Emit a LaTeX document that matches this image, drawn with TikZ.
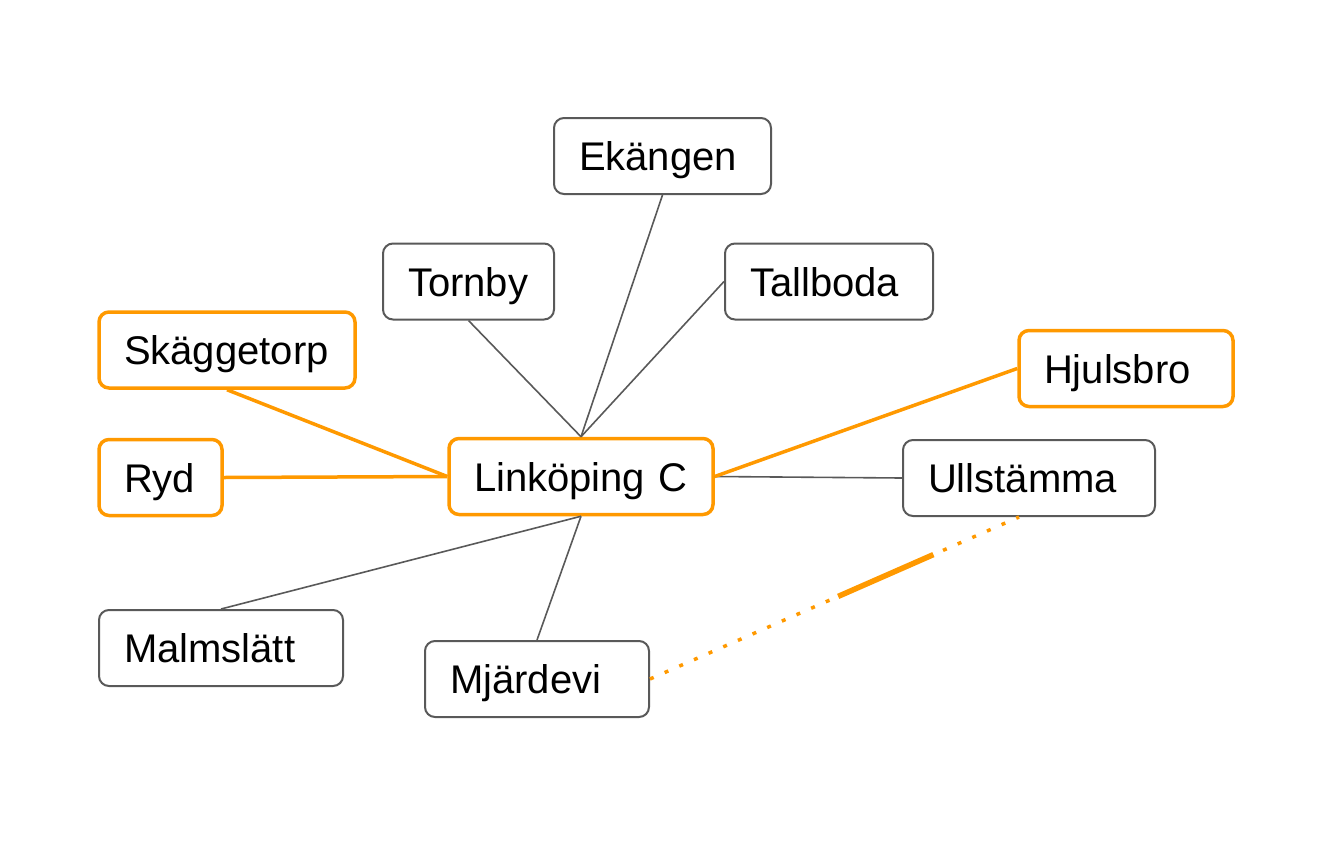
\documentclass[tikz,border=0pt]{standalone}
\usepackage{fontspec}
\setmainfont{Liberation Sans}
\definecolor{lkorange}{HTML}{FF9900}
\definecolor{lkgray}{HTML}{595959}
\begin{document}
\begin{tikzpicture}[x=1pt,y=-1pt,
  station/.style={draw=lkgray,line width=2pt,rounded corners=10pt,fill=white,
    minimum height=76pt,inner ysep=0pt,inner xsep=25pt,align=left,
    text height=29pt,text depth=0pt,font=\fontsize{40}{48}\selectfont},
  hub/.style={station,draw=lkorange,line width=3.5pt},
  w/.style={minimum width=#1pt,text width=#1pt-50pt},
  link/.style={draw=lkgray,line width=1.6pt},
  olink/.style={draw=lkorange,line width=3.5pt}]
\useasboundingbox (0,0) rectangle (1322,849);
\node[station,w=217] (ek) at (662.5,156) {Ekängen};
\node[station,w=171] (to) at (468.5,281.5) {Tornby};
\node[station,w=208] (ta) at (829,281.5) {Tallboda};
\node[hub,w=256] (sk) at (227,350) {Skäggetorp};
\node[hub,w=214] (hj) at (1126,368.5) {Hjulsbro};
\node[hub,w=123] (ry) at (160.5,477.5) {Ryd};
\node[hub,w=264] (lk) at (581,476.5) {Linköping C};
\node[station,w=252] (ul) at (1029,478) {Ullstämma};
\node[station,w=244] (ma) at (221,648) {Malmslätt};
\node[station,w=224] (mj) at (537,679) {Mjärdevi};
\coordinate (ulb) at ([xshift=-10pt]ul.south);
\begin{scope}[on background layer/.try]
\end{scope}
\draw[link] (ek.south) -- (lk.north);
\draw[link] (to.south) -- (lk.north);
\draw[link] (ta.west) -- (lk.north);
\draw[link] (ul.west) -- (lk.east);
\draw[link] (ma.north) -- (lk.south);
\draw[link] (mj.north) -- (lk.south);
\draw[olink] (sk.south) -- (lk.west);
\draw[olink] (ry.east) -- (lk.west);
\draw[olink] (hj.west) -- (lk.east);
\draw[draw=lkorange,line width=3.5pt,dash pattern=on 4pt off 12pt] (mj.east) -- (ulb)
  coordinate[pos=0.51] (s1) coordinate[pos=0.768] (s2);
\draw[draw=lkorange,line width=5.5pt] (s1) -- (s2);
\end{tikzpicture}
\end{document}
